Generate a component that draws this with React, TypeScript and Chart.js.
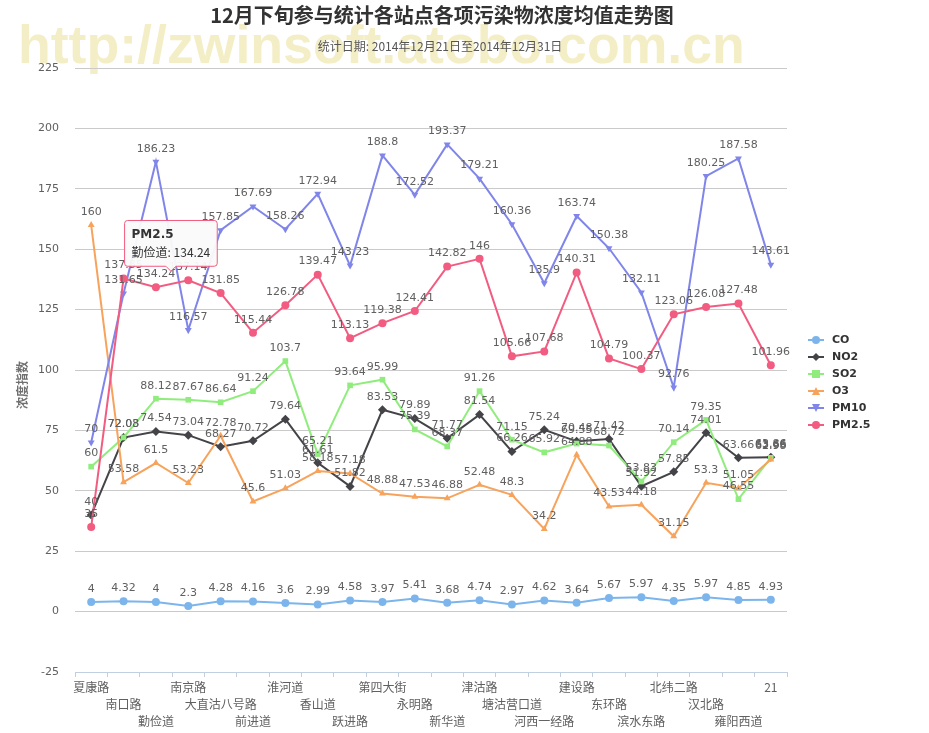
import React, { useEffect, useRef } from 'react';
import { Chart, registerables, Tooltip } from 'chart.js';

Chart.register(...registerables);

const titleText = '12月下旬参与统计各站点各项污染物浓度均值走势图';
const subtitleText = '统计日期: 2014年12月21日至2014年12月31日';
const watermarkText = 'http://zwinsoft.atobo.com.cn';
const yAxisTitle = '浓度指数';

const categories = [
  '夏康路', '南口路', '勤俭道', '南京路', '大直沽八号路', '前进道', '淮河道', '香山道',
  '跃进路', '第四大街', '永明路', '新华道', '津沽路', '塘沽营口道', '河西一经路', '建设路',
  '东环路', '滨水东路', '北纬二路', '汉北路', '雍阳西道', '21',
];

const seriesNames = ['CO', 'NO2', 'SO2', 'O3', 'PM10', 'PM2.5'];

const coValues = [4, 4.32, 4, 2.3, 4.28, 4.16, 3.6, 2.99, 4.58, 3.97, 5.41, 3.68, 4.74, 2.97, 4.62, 3.64, 5.67, 5.97, 4.35, 5.97, 4.85, 4.93];
const no2Values = [40, 72.03, 74.54, 73.04, 68.27, 70.72, 79.64, 61.61, 51.82, 83.53, 79.89, 71.77, 81.54, 66.26, 75.24, 70.48, 71.42, 51.92, 57.85, 74.01, 63.66, 63.86];
const so2Values = [60, 72.08, 88.12, 87.67, 86.64, 91.24, 103.7, 65.21, 93.64, 95.99, 75.39, 68.37, 91.26, 71.15, 65.92, 69.55, 68.72, 53.83, 70.14, 79.35, 46.55, 63.66];
const o3Values = [160, 53.58, 61.5, 53.23, 72.78, 45.6, 51.03, 58.18, 57.18, 48.88, 47.53, 46.88, 52.48, 48.3, 34.2, 64.88, 43.53, 44.18, 31.15, 53.3, 51.05, 62.98];
const pm10Values = [70, 131.65, 186.23, 116.57, 157.85, 167.69, 158.26, 172.94, 143.23, 188.8, 172.52, 193.37, 179.21, 160.36, 135.9, 163.74, 150.38, 132.11, 92.76, 180.25, 187.58, 143.61];
const pm25Values = [35, 137.85, 134.24, 137.14, 131.85, 115.44, 126.78, 139.47, 113.13, 119.38, 124.41, 142.82, 146, 105.66, 107.68, 140.31, 104.79, 100.37, 123.06, 126.08, 127.48, 101.96];

const yMin = -25;
const yMax = 225;
const yStep = 25;

const colors = ['#7CB5EC', '#434348', '#90ED7D', '#F7A35C', '#8085E9', '#F15C80'];
const markers = ['circle', 'diamond', 'square', 'triangle', 'triangleDown', 'circle'];

const tooltipSeries = 5;
const tooltipIndex = 2;

const allValues = [coValues, no2Values, so2Values, o3Values, pm10Values, pm25Values];

function drawMarker(ctx: CanvasRenderingContext2D, kind: string, x: number, y: number, r: number, color: string) {
  ctx.save();
  ctx.fillStyle = color;
  ctx.beginPath();
  if (kind === 'circle') {
    ctx.arc(x, y, r, 0, Math.PI * 2);
  } else if (kind === 'diamond') {
    ctx.moveTo(x, y - r);
    ctx.lineTo(x + r, y);
    ctx.lineTo(x, y + r);
    ctx.lineTo(x - r, y);
    ctx.closePath();
  } else if (kind === 'square') {
    ctx.rect(x - r, y - r, 2 * r, 2 * r);
  } else if (kind === 'triangle') {
    ctx.moveTo(x, y - r);
    ctx.lineTo(x + r, y + r);
    ctx.lineTo(x - r, y + r);
    ctx.closePath();
  } else if (kind === 'triangleDown') {
    ctx.moveTo(x - r, y - r);
    ctx.lineTo(x + r, y - r);
    ctx.lineTo(x, y + r);
    ctx.closePath();
  }
  ctx.fill();
  ctx.restore();
}

const decorPlugin = {
  id: 'decor',
  beforeDraw(chart: any) {
    const ctx: CanvasRenderingContext2D = chart.ctx;
    ctx.save();
    ctx.fillStyle = '#FFFFFF';
    ctx.fillRect(0, 0, chart.width, chart.height);
    // watermark
    ctx.font = 'bold 50px "Liberation Sans", Arial, sans-serif';
    const w = ctx.measureText(watermarkText).width;
    const size = 50 * 727 / w;
    ctx.font = `bold ${size}px "Liberation Sans", Arial, sans-serif`;
    ctx.fillStyle = '#F4EEC6';
    ctx.textAlign = 'left';
    ctx.textBaseline = 'alphabetic';
    ctx.fillText(watermarkText, 18, 63);
    // title
    ctx.fillStyle = '#333333';
    ctx.font = 'bold 20px "Noto Sans CJK SC", sans-serif';
    ctx.textAlign = 'center';
    ctx.textBaseline = 'middle';
    ctx.fillText(titleText, 442, 15);
    ctx.fillStyle = '#555555';
    ctx.font = '12px "Noto Sans CJK SC", sans-serif';
    ctx.fillText(subtitleText, 440, 46);
    // y-axis title
    ctx.save();
    ctx.translate(22, 385);
    ctx.rotate(-Math.PI / 2);
    ctx.fillStyle = '#707070';
    ctx.font = 'bold 12px "Noto Sans CJK SC", sans-serif';
    ctx.fillText(yAxisTitle, 0, 0);
    ctx.restore();
    ctx.restore();
  },
  afterDatasetsDraw(chart: any) {
    const ctx: CanvasRenderingContext2D = chart.ctx;
    ctx.save();
    ctx.font = '11px "DejaVu Sans", sans-serif';
    ctx.fillStyle = '#606060';
    ctx.textAlign = 'center';
    ctx.textBaseline = 'middle';
    chart.data.datasets.forEach((ds: any, di: number) => {
      const meta = chart.getDatasetMeta(di);
      meta.data.forEach((pt: any, i: number) => {
        ctx.fillText(String(ds.data[i]), pt.x, pt.y - 13);
      });
    });
    ctx.restore();
  },
  afterDraw(chart: any) {
    const ctx: CanvasRenderingContext2D = chart.ctx;
    ctx.save();
    seriesNames.forEach((name, i) => {
      const y = 340 + i * 17;
      ctx.strokeStyle = colors[i];
      ctx.lineWidth = 2;
      ctx.beginPath();
      ctx.moveTo(808, y);
      ctx.lineTo(824, y);
      ctx.stroke();
      drawMarker(ctx, markers[i], 816, y, 4, colors[i]);
      ctx.fillStyle = '#333333';
      ctx.font = 'bold 11px "DejaVu Sans", sans-serif';
      ctx.textAlign = 'left';
      ctx.textBaseline = 'middle';
      ctx.fillText(name, 832, y);
    });
    ctx.restore();
  },
};

(Tooltip as any).positioners.hcCallout = function (elements: any[]) {
  if (!elements.length) return false;
  const el = elements[0].element;
  return { x: el.x + 15, y: el.y - 14, xAlign: 'center', yAlign: 'bottom' };
};

const pointStyleMap: Record<string, string> = {
  circle: 'circle',
  diamond: 'rectRot',
  square: 'rect',
  triangle: 'triangle',
  triangleDown: 'triangle',
};

export default function App() {
  const ref = useRef<HTMLCanvasElement>(null);
  useEffect(() => {
    document.body.style.margin = '0';
    const canvas = ref.current!;
    const datasets = allValues.map((vals, i) => ({
      label: seriesNames[i],
      data: vals,
      borderColor: colors[i],
      backgroundColor: colors[i],
      borderWidth: 2,
      pointRadius: markers[i] === 'diamond' ? 4.5 : 4,
      pointHoverRadius: 5,
      pointBorderWidth: 0,
      pointBackgroundColor: colors[i],
      pointStyle: pointStyleMap[markers[i]],
      pointRotation: markers[i] === 'triangleDown' ? 180 : 0,
      tension: 0,
      fill: false,
      order: seriesNames.length - i,
    }));
    const chart = new Chart(canvas, {
      type: 'line',
      data: { labels: categories, datasets },
      plugins: [decorPlugin],
      options: {
        animation: false,
        responsive: false,
        devicePixelRatio: 1,
        layout: { padding: { left: 0, right: 142, top: 68, bottom: 0 } },
        events: [],
        plugins: {
          legend: { display: false },
          title: { display: false },
          tooltip: {
            enabled: true,
            position: 'hcCallout' as any,
            backgroundColor: 'rgba(250,250,250,0.95)',
            borderColor: '#F15C80',
            borderWidth: 1,
            cornerRadius: 3,
            caretSize: 5,
            caretPadding: 2,
            padding: 7,
            displayColors: false,
            titleColor: '#333333',
            bodyColor: '#333333',
            titleFont: { family: '"DejaVu Sans", sans-serif', size: 12, weight: 'bold' },
            bodyFont: { family: '"Noto Sans CJK SC", sans-serif', size: 12 },
            titleMarginBottom: 3,
            callbacks: {
              title: (items: any[]) => items[0].dataset.label,
              label: (item: any) => `${categories[item.dataIndex]}: ${item.raw}`,
            },
          },
        },
        scales: {
          x: {
            type: 'category',
            offset: true,
            afterFit: (s: any) => { s.height = 61; },
            border: { display: true, color: '#C0D0E0', width: 1 },
            grid: { drawOnChartArea: false, drawTicks: true, tickLength: 5, color: '#C0D0E0', offset: true },
            ticks: {
              autoSkip: false,
              maxRotation: 0,
              minRotation: 0,
              padding: 2,
              color: '#606060',
              font: { family: '"Noto Sans CJK SC", sans-serif', size: 12, lineHeight: '17px' },
              callback: (_v: any, i: number) => {
                const lines: string[] = [];
                for (let k = 0; k < i % 3; k++) lines.push('');
                lines.push(categories[i]);
                return lines;
              },
            },
          },
          y: {
            min: yMin,
            max: yMax,
            afterFit: (s: any) => { s.width = 75; },
            border: { display: false },
            grid: {
              drawTicks: false,
              color: (c: any) => (c.tick && c.tick.value === yMin ? 'rgba(0,0,0,0)' : '#CACACA'),
            },
            ticks: {
              stepSize: yStep,
              padding: 16,
              color: '#606060',
              font: { family: '"DejaVu Sans", sans-serif', size: 11 },
            },
          },
        },
      } as any,
    });
    chart.tooltip!.setActiveElements([{ datasetIndex: tooltipSeries, index: tooltipIndex }], { x: 0, y: 0 });
    chart.update();
    return () => chart.destroy();
  }, []);
  return (
    <div style={{ width: 929, height: 733 }}>
      <canvas ref={ref} width={929} height={733} style={{ display: 'block', width: 929, height: 733 }} />
    </div>
  );
}
